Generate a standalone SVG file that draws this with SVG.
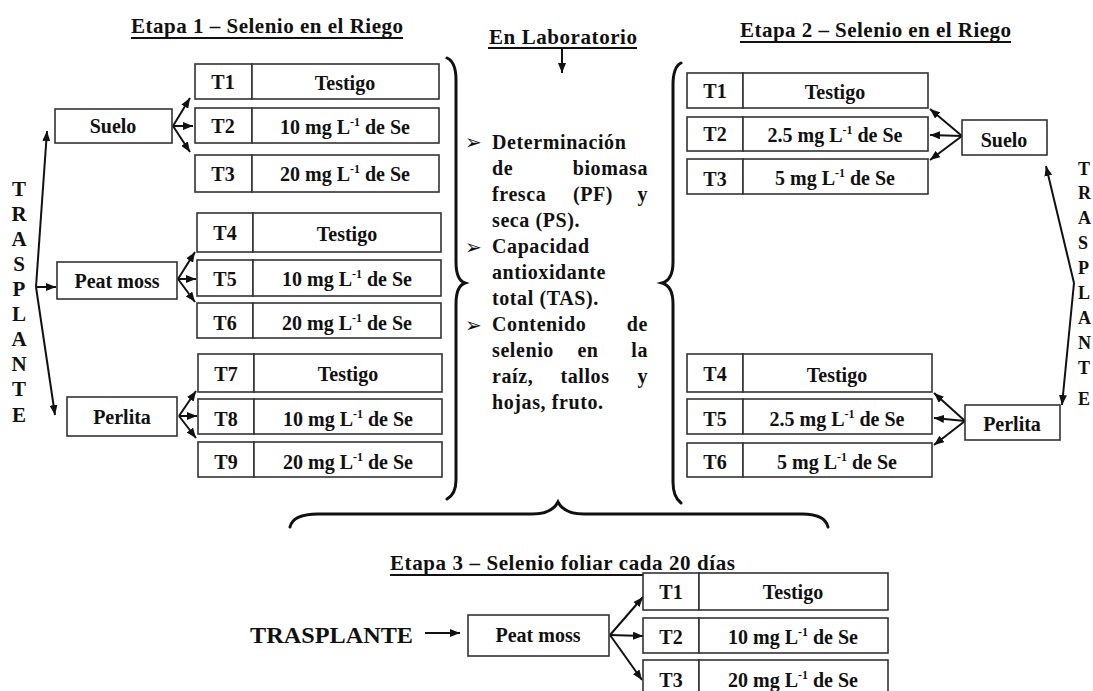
<svg xmlns="http://www.w3.org/2000/svg" width="1093" height="691" viewBox="0 0 1093 691">
  <defs>
    <marker id="arrow" markerUnits="userSpaceOnUse" markerWidth="10" markerHeight="8" refX="10" refY="4" orient="auto">
      <path d="M0,0 L10,4 L0,8 z" fill="#111"/>
    </marker>
    <style>
      .t { font-family: "Liberation Serif", "Times New Roman", serif; font-weight: bold; fill: #111; }
      .box { fill: #fff; stroke: #333; stroke-width: 1.6; }
      .cell { font-size: 20px; text-anchor: middle; }
      .title { font-size: 21px; }
      .lab { font-size: 20px; letter-spacing: 0.6px; }
      .vert { font-size: 21px; text-anchor: middle; }
      .ul { stroke: #111; stroke-width: 2; }
      .arr { stroke: #111; stroke-width: 2; fill: none; marker-end: url(#arrow); }
      .brace { stroke: #111; stroke-width: 3; fill: none; stroke-linecap: round; }
      .sup { font-size: 12px; }
      .bullet { font-family: "DejaVu Sans", sans-serif; font-size: 20px; font-weight: bold; letter-spacing: 0; }
    </style>
  </defs>
  <rect width="1093" height="691" fill="#fff"/>

  <!-- Titles -->
  <g id="titles" class="t">
    <text class="title" x="131" y="33" textLength="272" lengthAdjust="spacing">Etapa 1 – Selenio en el Riego</text>
    <line class="ul" x1="131" y1="38" x2="403" y2="38"/>
    <text class="title" x="489" y="44" textLength="148" lengthAdjust="spacing">En Laboratorio</text>
    <line class="ul" x1="488" y1="48" x2="637" y2="48"/>
    <text class="title" x="740" y="37" textLength="271" lengthAdjust="spacing">Etapa 2 – Selenio en el Riego</text>
    <line class="ul" x1="740" y1="42" x2="1011" y2="42"/>
    <text class="title" x="390" y="570" textLength="345" lengthAdjust="spacing">Etapa 3 – Selenio foliar cada 20 días</text>
    <line class="ul" x1="390" y1="575" x2="735" y2="575"/>
  </g>

  <!-- Vertical TRASPLANTE labels -->
  <g id="trasplante-left" class="t vert">
    <text x="19" y="196">T</text>
    <text x="19" y="221">R</text>
    <text x="19" y="246">A</text>
    <text x="19" y="271">S</text>
    <text x="19" y="296">P</text>
    <text x="19" y="321">L</text>
    <text x="19" y="346">A</text>
    <text x="19" y="371">N</text>
    <text x="19" y="396">T</text>
    <text x="19" y="422">E</text>
  </g>
  <g id="trasplante-right" class="t" font-size="18px">
    <text x="1078" y="175">T</text>
    <text x="1078" y="199">R</text>
    <text x="1078" y="224">A</text>
    <text x="1078" y="249">S</text>
    <text x="1078" y="274">P</text>
    <text x="1078" y="299">L</text>
    <text x="1078" y="324">A</text>
    <text x="1078" y="349">N</text>
    <text x="1078" y="374">T</text>
    <text x="1078" y="405">E</text>
  </g>
  <g id="trasplante-bottom" class="t">
    <text x="250" y="643" font-size="24px" textLength="163" lengthAdjust="spacingAndGlyphs">TRASPLANTE</text>
  </g>

  <!-- Connectors -->
  <g id="connectors">
    <!-- stage 1: transplant to substrates -->
    <path class="arr" d="M36,287 L47,131"/>
    <path class="arr" d="M36,287 L56,287"/>
    <path class="arr" d="M36,287 L55,415"/>
    <!-- Suelo -->
    <path class="arr" d="M173,126 L190,98"/>
    <path class="arr" d="M173,126 L193,126"/>
    <path class="arr" d="M173,126 L190,152"/>
    <!-- Peat moss -->
    <path class="arr" d="M178,279 L195,252"/>
    <path class="arr" d="M178,279 L196,279"/>
    <path class="arr" d="M178,279 L195,302"/>
    <!-- Perlita -->
    <path class="arr" d="M179,416 L196,391"/>
    <path class="arr" d="M179,416 L197,416"/>
    <path class="arr" d="M179,416 L196,438"/>
    <!-- laboratory -->
    <path class="arr" d="M562,48 L562,73"/>
    <!-- stage 2 -->
    <path class="arr" d="M1074,283 L1046,166"/>
    <path class="arr" d="M1074,283 L1062,405"/>
    <path class="arr" d="M962,136 L930,109"/>
    <path class="arr" d="M962,136 L930,135"/>
    <path class="arr" d="M962,136 L930,160"/>
    <path class="arr" d="M965,421 L934,393"/>
    <path class="arr" d="M965,421 L934,418"/>
    <path class="arr" d="M965,421 L934,445"/>
    <!-- stage 3 -->
    <path class="arr" d="M425,633 L460,633"/>
    <path class="arr" d="M610,635 L643,597"/>
    <path class="arr" d="M610,635 L643,636"/>
    <path class="arr" d="M610,635 L642,680"/>
  </g>

  <!-- Braces -->
  <g id="braces">
    <path class="brace" d="M447,58 Q456,62 456,80 L456,262 Q456,280 465,283 Q456,286 456,304 L456,480 Q456,494 447,499"/>
    <path class="brace" d="M681,63 Q673,67 673,85 L673,262 Q673,280 662,283 Q673,286 673,304 L673,482 Q673,497 681,503"/>
    <path class="brace" d="M290,527 Q293,514 318,514 L532,514 Q552,514 558,502 Q564,514 584,514 L802,514 Q825,514 828,527"/>
  </g>

  <!-- Stage 1 substrates -->
  <g id="e1-suelo" class="t">
    <rect class="box" x="55" y="109" width="117" height="34"/>
    <text class="cell" x="113" y="133">Suelo</text>
  </g>
  <g id="e1-peatmoss" class="t">
    <rect class="box" x="57" y="262" width="120" height="37"/>
    <text class="cell" x="117" y="288">Peat moss</text>
  </g>
  <g id="e1-perlita" class="t">
    <rect class="box" x="67" y="397" width="110" height="39"/>
    <text class="cell" x="122" y="424">Perlita</text>
  </g>

  <!-- Stage 1 treatments -->
  <g id="e1-t1" class="t">
    <rect class="box" x="195" y="64" width="57" height="35"/>
    <rect class="box" x="252" y="64" width="187" height="35"/>
    <text class="cell" x="223" y="89">T1</text>
    <text class="cell" x="345" y="90">Testigo</text>
  </g>
  <g id="e1-t2" class="t">
    <rect class="box" x="195" y="108" width="57" height="35"/>
    <rect class="box" x="252" y="108" width="187" height="35"/>
    <text class="cell" x="223" y="133">T2</text>
    <text class="cell" x="345" y="134">10 mg L<tspan class="sup" dy="-8">-1</tspan><tspan dy="8"> de Se</tspan></text>
  </g>
  <g id="e1-t3" class="t">
    <rect class="box" x="195" y="155" width="57" height="37"/>
    <rect class="box" x="252" y="155" width="187" height="37"/>
    <text class="cell" x="223" y="181">T3</text>
    <text class="cell" x="345" y="181">20 mg L<tspan class="sup" dy="-8">-1</tspan><tspan dy="8"> de Se</tspan></text>
  </g>
  <g id="e1-t4" class="t">
    <rect class="box" x="197" y="213" width="56" height="39"/>
    <rect class="box" x="253" y="213" width="188" height="39"/>
    <text class="cell" x="225" y="240">T4</text>
    <text class="cell" x="347" y="241">Testigo</text>
  </g>
  <g id="e1-t5" class="t">
    <rect class="box" x="197" y="260" width="56" height="36"/>
    <rect class="box" x="253" y="260" width="188" height="36"/>
    <text class="cell" x="225" y="286">T5</text>
    <text class="cell" x="347" y="286">10 mg L<tspan class="sup" dy="-8">-1</tspan><tspan dy="8"> de Se</tspan></text>
  </g>
  <g id="e1-t6" class="t">
    <rect class="box" x="197" y="303" width="56" height="35"/>
    <rect class="box" x="253" y="303" width="188" height="35"/>
    <text class="cell" x="225" y="330">T6</text>
    <text class="cell" x="347" y="330">20 mg L<tspan class="sup" dy="-8">-1</tspan><tspan dy="8"> de Se</tspan></text>
  </g>
  <g id="e1-t7" class="t">
    <rect class="box" x="198" y="354" width="56" height="38"/>
    <rect class="box" x="254" y="354" width="188" height="38"/>
    <text class="cell" x="226" y="381">T7</text>
    <text class="cell" x="348" y="381">Testigo</text>
  </g>
  <g id="e1-t8" class="t">
    <rect class="box" x="198" y="399" width="56" height="35"/>
    <rect class="box" x="254" y="399" width="188" height="35"/>
    <text class="cell" x="226" y="426">T8</text>
    <text class="cell" x="348" y="426">10 mg L<tspan class="sup" dy="-8">-1</tspan><tspan dy="8"> de Se</tspan></text>
  </g>
  <g id="e1-t9" class="t">
    <rect class="box" x="198" y="442" width="56" height="35"/>
    <rect class="box" x="254" y="442" width="188" height="35"/>
    <text class="cell" x="226" y="469">T9</text>
    <text class="cell" x="348" y="469">20 mg L<tspan class="sup" dy="-8">-1</tspan><tspan dy="8"> de Se</tspan></text>
  </g>

  <!-- Laboratory analyses -->
  <g id="laboratorio" class="t lab">
    <text class="bullet" x="465" y="149">➢</text>
    <text class="bullet" x="465" y="254">➢</text>
    <text class="bullet" x="465" y="332">➢</text>
    <text x="492" y="149">Determinación</text>
    <text x="492" y="175">de</text>
    <text x="648" y="175" text-anchor="end">biomasa</text>
    <text x="492" y="201">fresca</text>
    <text x="593" y="201" text-anchor="middle">(PF)</text>
    <text x="648" y="201" text-anchor="end">y</text>
    <text x="492" y="227">seca (PS).</text>
    <text x="492" y="253">Capacidad</text>
    <text x="492" y="279">antioxidante</text>
    <text x="492" y="305">total (TAS).</text>
    <text x="492" y="331">Contenido</text>
    <text x="648" y="331" text-anchor="end">de</text>
    <text x="492" y="357">selenio</text>
    <text x="588" y="357" text-anchor="middle">en</text>
    <text x="648" y="357" text-anchor="end">la</text>
    <text x="492" y="383">raíz,</text>
    <text x="585" y="383" text-anchor="middle">tallos</text>
    <text x="648" y="383" text-anchor="end">y</text>
    <text x="492" y="409">hojas, fruto.</text>
  </g>

  <!-- Stage 2 treatments -->
  <g id="e2-t1" class="t">
    <rect class="box" x="687" y="73" width="56" height="35"/>
    <rect class="box" x="743" y="73" width="185" height="35"/>
    <text class="cell" x="715" y="98">T1</text>
    <text class="cell" x="835" y="99">Testigo</text>
  </g>
  <g id="e2-t2" class="t">
    <rect class="box" x="687" y="117" width="56" height="34"/>
    <rect class="box" x="743" y="117" width="185" height="34"/>
    <text class="cell" x="715" y="141">T2</text>
    <text class="cell" x="835" y="142">2.5 mg L<tspan class="sup" dy="-8">-1</tspan><tspan dy="8"> de Se</tspan></text>
  </g>
  <g id="e2-t3" class="t">
    <rect class="box" x="687" y="159" width="56" height="35"/>
    <rect class="box" x="743" y="159" width="185" height="35"/>
    <text class="cell" x="715" y="186">T3</text>
    <text class="cell" x="835" y="185">5 mg L<tspan class="sup" dy="-8">-1</tspan><tspan dy="8"> de Se</tspan></text>
  </g>
  <g id="e2-suelo" class="t">
    <rect class="box" x="962" y="120" width="85" height="35"/>
    <text class="cell" x="1004" y="147">Suelo</text>
  </g>
  <g id="e2-t4" class="t">
    <rect class="box" x="687" y="354" width="56" height="38"/>
    <rect class="box" x="743" y="354" width="189" height="38"/>
    <text class="cell" x="715" y="381">T4</text>
    <text class="cell" x="837" y="382">Testigo</text>
  </g>
  <g id="e2-t5" class="t">
    <rect class="box" x="687" y="399" width="56" height="35"/>
    <rect class="box" x="743" y="399" width="189" height="35"/>
    <text class="cell" x="715" y="426">T5</text>
    <text class="cell" x="837" y="426">2.5 mg L<tspan class="sup" dy="-8">-1</tspan><tspan dy="8"> de Se</tspan></text>
  </g>
  <g id="e2-t6" class="t">
    <rect class="box" x="687" y="443" width="56" height="34"/>
    <rect class="box" x="743" y="443" width="189" height="34"/>
    <text class="cell" x="715" y="469">T6</text>
    <text class="cell" x="837" y="469">5 mg L<tspan class="sup" dy="-8">-1</tspan><tspan dy="8"> de Se</tspan></text>
  </g>
  <g id="e2-perlita" class="t">
    <rect class="box" x="965" y="405" width="95" height="35"/>
    <text class="cell" x="1012" y="431">Perlita</text>
  </g>

  <!-- Stage 3 -->
  <g id="e3-peatmoss" class="t">
    <rect class="box" x="468" y="615" width="141" height="41"/>
    <text class="cell" x="538" y="642">Peat moss</text>
  </g>
  <g id="e3-t1" class="t">
    <rect class="box" x="643" y="573" width="56" height="37"/>
    <rect class="box" x="699" y="573" width="189" height="37"/>
    <text class="cell" x="671" y="599">T1</text>
    <text class="cell" x="793" y="599">Testigo</text>
  </g>
  <g id="e3-t2" class="t">
    <rect class="box" x="643" y="618" width="56" height="35"/>
    <rect class="box" x="699" y="618" width="189" height="35"/>
    <text class="cell" x="671" y="644">T2</text>
    <text class="cell" x="793" y="644">10 mg L<tspan class="sup" dy="-8">-1</tspan><tspan dy="8"> de Se</tspan></text>
  </g>
  <g id="e3-t3" class="t">
    <rect class="box" x="643" y="660" width="56" height="40"/>
    <rect class="box" x="699" y="660" width="189" height="40"/>
    <text class="cell" x="671" y="687">T3</text>
    <text class="cell" x="793" y="687">20 mg L<tspan class="sup" dy="-8">-1</tspan><tspan dy="8"> de Se</tspan></text>
  </g>
</svg>
